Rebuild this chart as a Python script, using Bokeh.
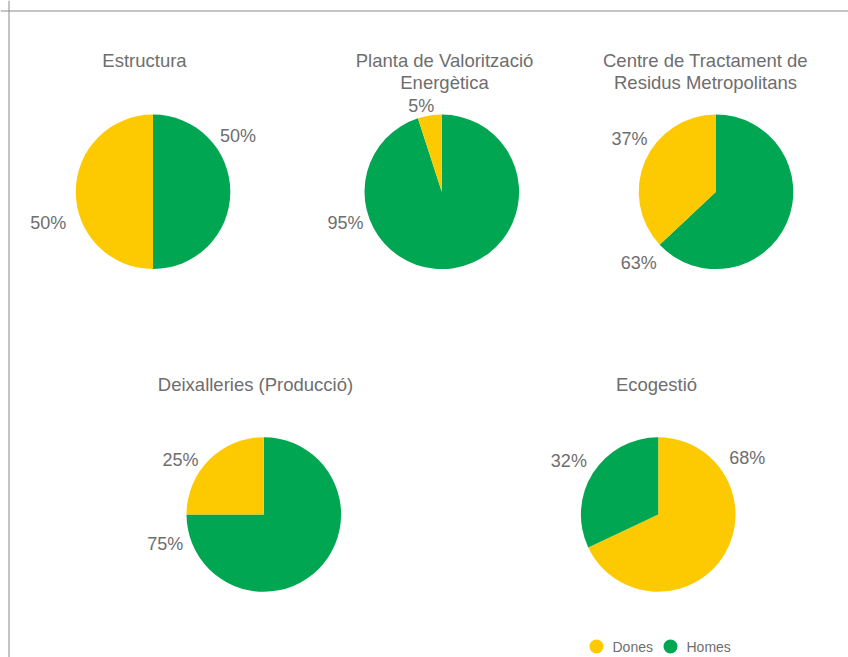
import math
from bokeh.plotting import figure
from bokeh.models import Range1d, Span, ColumnDataSource
from bokeh.core.properties import value
from bokeh.embed import file_html
from bokeh.resources import INLINE

# ---------------- data ----------------
CHARTS = [
    "Estructura",
    "Planta de Valorització\nEnergètica",
    "Centre de Tractament de\nResidus Metropolitans",
    "Deixalleries (Producció)",
    "Ecogestió",
]
SERIES = ["Dones", "Homes"]
DONES = [50, 5, 37, 25, 68]
HOMES = [50, 95, 63, 75, 32]

# ---------------- layout / style ----------------
W, H = 848, 657
COLORS = {"Dones": "#FDCA02", "Homes": "#00A651"}
TEXT = "#6E6E6E"
FONT = "Liberation Sans"
RADIUS = 77.3
# page coordinates of pie centres / title centres
PIE_CX = [152.5, 441.3, 715.5, 263.3, 657.7]
PIE_CY = [191.3, 191.3, 191.3, 514.0, 514.0]
TITLE_CX = [144, 444, 705, 255, 656]
TITLE_MID = [60.3, 60.3, 60.3, 383.5, 383.5]
TITLE_LINE = 22
# label placement: (angle clockwise from top in degrees, distance) for (Dones, Homes)
LABEL_DONES = [(253.2, 109.5), (346.5, 88.2), (301.6, 101.6), (303.2, 99.5), (57.8, 105.2)]
LABEL_HOMES = [(56.7, 101.7), (252.3, 101.1), (227.4, 104.9), (253.1, 103.1), (300.8, 104.0)]
LEGEND_X, LEGEND_Y, LEGEND_STEP = 596, 646, 74


def px(x):
    return x


def py(y):
    return H - y


p = figure(width=W, height=H, output_backend="svg", toolbar_location=None,
           x_range=Range1d(0, W), y_range=Range1d(0, H), min_border=0)
p.axis.visible = False
p.grid.visible = False
p.outline_line_color = None
p.background_fill_color = "white"
p.border_fill_color = "white"

# container border (left + top)
p.add_layout(Span(location=8.5, dimension="height", line_color="#8A8A8A", line_width=1))
p.add_layout(Span(location=py(10.5), dimension="width", line_color="#8A8A8A", line_width=1))

wx, wy, ws, we, wc = [], [], [], [], []
lx, ly, lt = [], [], []
for i in range(len(CHARTS)):
    vals = {"Dones": DONES[i], "Homes": HOMES[i]}
    total = sum(vals.values())
    # larger slice first (ties: Homes first), clockwise from 12 o'clock
    order = sorted(SERIES, key=lambda s: (-vals[s], 0 if s == "Homes" else 1))
    theta = 0.0
    for s in order:
        t1 = theta
        t2 = theta + 2 * math.pi * vals[s] / total
        wx.append(px(PIE_CX[i]))
        wy.append(py(PIE_CY[i]))
        ws.append(math.pi / 2 - t1)
        we.append(math.pi / 2 - t2)
        wc.append(COLORS[s])
        theta = t2
    for s, (ang, dist) in (("Dones", LABEL_DONES[i]), ("Homes", LABEL_HOMES[i])):
        a = math.radians(ang)
        cx = PIE_CX[i] + dist * math.sin(a)
        cy = PIE_CY[i] - dist * math.cos(a)
        lx.append(px(cx))
        ly.append(py(cy))
        lt.append(f"{round(100 * vals[s] / total)}%")

p.wedge(x="x", y="y", radius=RADIUS, start_angle="s", end_angle="e",
        direction="clock", fill_color="c", line_color=None,
        source=ColumnDataSource(dict(x=wx, y=wy, s=ws, e=we, c=wc)))

p.text(x=lx, y=ly, text=lt, text_font=value(FONT), text_font_size="18px",
       text_color=TEXT, text_align="center", text_baseline="middle")

tx, ty, tt = [], [], []
for i, title in enumerate(CHARTS):
    for j, line in enumerate(title.split("\n")):
        tx.append(px(TITLE_CX[i]))
        ty.append(py(TITLE_MID[i] + j * TITLE_LINE))
        tt.append(line)
p.text(x=tx, y=ty, text=tt, text_font=value(FONT), text_font_size="18.5px",
       text_color=TEXT, text_align="center", text_baseline="middle")

# legend
gx = [px(LEGEND_X + k * LEGEND_STEP) for k in range(len(SERIES))]
gy = [py(LEGEND_Y)] * len(SERIES)
p.scatter(x=gx, y=gy, size=14, marker="circle",
          fill_color=[COLORS[s] for s in SERIES], line_color=None)
p.text(x=[g + 16 for g in gx], y=gy, text=SERIES,
       text_font=value(FONT), text_font_size="14px", text_color=TEXT,
       text_align="left", text_baseline="middle")

open("out.html", "w").write(file_html(p, INLINE))
